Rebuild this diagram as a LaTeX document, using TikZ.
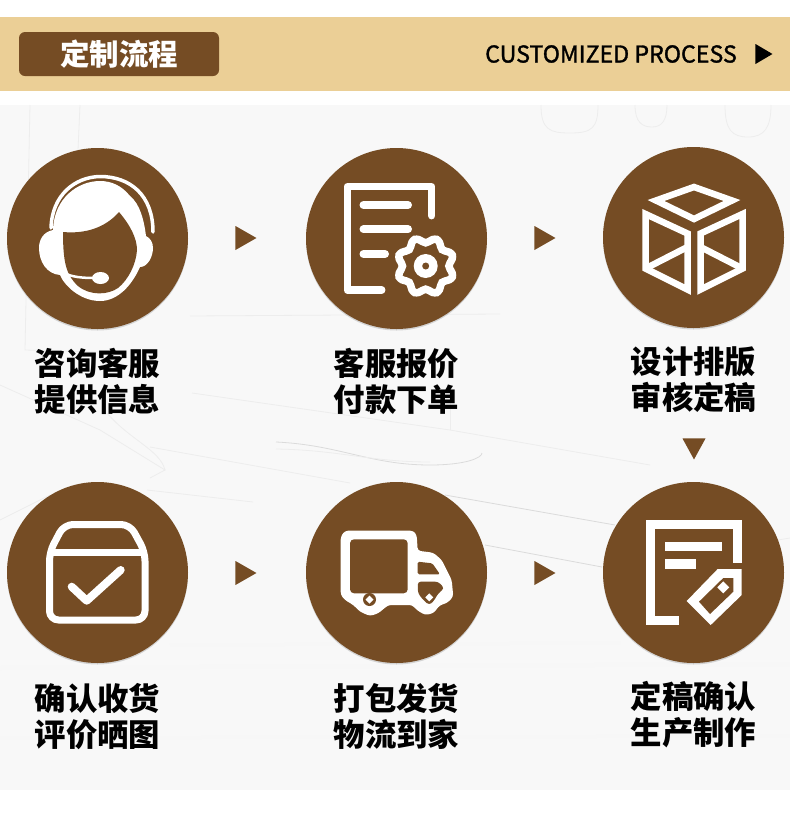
\documentclass[tikz,border=0pt]{standalone}
\usepackage{fontspec}
\newfontfamily\cjk{Noto Sans CJK SC}
\newfontfamily\cjkmid[FakeBold=1.4]{Noto Sans CJK SC}
\usetikzlibrary{positioning,shapes.geometric,shadows}
\definecolor{bark}{HTML}{754C24}
\definecolor{sand}{HTML}{EBCF96}
\definecolor{paper}{HTML}{F8F8F8}
\begin{document}
\begin{tikzpicture}[x=1pt,y=-1pt,
  disc/.style={circle,fill=bark,minimum size=181pt,inner sep=0pt,drop shadow={opacity=.3,shadow xshift=0pt,shadow yshift=-1.5pt}},
  word/.style={align=center,inner sep=0pt,font=\cjk\bfseries\fontsize{31.4}{36}\selectfont},
  tri/.style={isosceles triangle,isosceles triangle stretches,fill=bark,inner sep=0pt,minimum height=21pt,minimum width=24pt,anchor=apex},
  ico/.style={draw=white,line width=7pt,line cap=round,line join=round},
  sharp/.style={draw=white,line width=6.5pt,line cap=butt,line join=miter},
  tex/.style={draw=black!7,line width=.8pt}]
\useasboundingbox (0,0) rectangle (790,820);
% header band
\fill[sand] (0,17) rectangle (790,91);
\node[fill=bark,rounded corners=6pt,minimum width=200pt,minimum height=44pt,inner sep=0pt] (badge) at (119,54) {};
\node[text=white,inner sep=0pt,font=\cjk\bfseries\fontsize{29.5}{29}\selectfont] (title) at (badge) {定制流程};
\node[inner sep=0pt,anchor=east,font=\cjkmid\fontsize{23.2}{24}\selectfont] (sub) at (737,54) {CUSTOMIZED PROCESS};
\node[tri,fill=black,minimum height=17pt,minimum width=20pt] (go) at (773,54) {};
% paper background
\fill[paper] (0,105) rectangle (790,790);
\draw[tex] (80,105) -- (78,150);
\draw[tex] (30,105) -- (25,350) -- (100,352);
\draw[tex] (541,105) .. controls (541,130) and (550,133) .. (570,133) .. controls (592,133) and (598,128) .. (598,105);
\draw[tex] (635,105) .. controls (635,122) and (642,127) .. (652,127) .. controls (662,127) and (667,120) .. (667,105);
\draw[tex] (725,105) .. controls (725,130) and (732,137) .. (748,137) .. controls (764,137) and (771,128) .. (771,105);
\draw[tex] (190,316) -- (500,314);
\draw[tex] (0,385) -- (100,430) -- (165,470) -- (150,478);
\draw[tex] (107,413) .. controls (130,440) and (160,450) .. (165,470);
\draw[tex] (192,393) -- (450,430) -- (650,465);
\draw[tex] (450,403) -- (450,430);
\draw[tex] (150,447) -- (350,483);
\draw[tex,draw=black!14] (276,442) .. controls (340,445) and (370,465) .. (430,465) .. controls (465,465) and (482,458) .. (482,453);
\draw[tex] (276,449) .. controls (340,450) and (370,462) .. (430,462);
\draw[tex] (147,490) -- (253,502);
\draw[tex,draw=black!14] (445,495) -- (615,525);
\draw[tex,draw=black!14] (485,545) -- (602,567);
\draw[tex] (778,540) -- (790,538);
\draw[tex] (0,520) -- (50,495);
\draw[black!3,line width=3pt] (170,645) -- (620,643);
\draw[black!3,line width=4pt] (0,668) -- (790,664);
\draw[black!3,line width=3pt] (0,738) -- (790,736);
% circles
\node[disc] (c1) at (97.5,238.5) {};
\node[disc] (c2) at (396.5,238.5) {};
\node[disc] (c3) at (693.5,237.5) {};
\node[disc] (c4) at (97.5,572.5) {};
\node[disc] (c5) at (396.5,572.5) {};
\node[disc] (c6) at (693.5,572.5) {};
% triangles between steps
\node[tri] (t1) at (257,238) {};
\node[tri] (t2) at (556,238) {};
\node[tri] (t3) at (257,573) {};
\node[tri] (t4) at (556,573) {};
\node[tri,shape border rotate=-90,minimum width=23pt] (t5) at (694,460) {};
% texts
\node[word] (w1) at (97.5,381.5) {咨询客服\\提供信息};
\node[word] (w2) at (396.5,381.5) {客服报价\\付款下单};
\node[word] (w3) at (693.5,379.5) {设计排版\\审核定稿};
\node[word] (w4) at (97.5,716.5) {确认收货\\评价晒图};
\node[word] (w5) at (396.5,716.5) {打包发货\\物流到家};
\node[word] (w6) at (693.5,714.5) {定稿确认\\生产制作};
% headset
\fill[white] (53,230) .. controls (43,232) and (39,240) .. (39,248) .. controls (39,262) and (47,274) .. (60,275)
  .. controls (64,285) and (80,301) .. (100,301) .. controls (118,301) and (132,285) .. (140,267)
  .. controls (148,267) and (153,256) .. (153,248) .. controls (153,242) and (150,238) .. (146,236)
  .. controls (144,220) and (140,204) .. (130,196) .. controls (122,186) and (112,181) .. (100,181)
  .. controls (78,181) and (54,198) .. (53,230) -- cycle;
\fill[bark] (63,232) .. controls (85,234) and (105,228) .. (119,212) .. controls (130,225) and (137,238) .. (137,250)
  .. controls (136,265) and (128,280) .. (118,288) .. controls (108,295) and (90,296) .. (78,286)
  .. controls (66,275) and (63,262) .. (63,232) -- cycle;
\draw[draw=white,line width=3.5pt,line cap=round] (51,228) .. controls (52,195) and (75,177) .. (100,176.5) .. controls (130,176.5) and (153,195) .. (153,232);
\draw[draw=white,line width=2.5pt] (64,273) .. controls (72,277) and (82,278) .. (95,278);
\fill[white] (100.5,278) ellipse [x radius=8.5,y radius=6];
% form and gear
\draw[ico,line width=7.5pt] (431.7,215.7) -- (431.7,186.7) -- (347.3,186.7) -- (347.3,290) -- (381.7,290);
\draw[ico,line width=8pt] (363.5,205) -- (408,205);
\draw[ico,line width=8pt] (363.5,229.3) -- (408,229.3);
\draw[ico,line width=8pt] (363.5,254) -- (385,254);
\draw[draw=white,line width=7.5pt,smooth cycle] plot[domain=0:352.5,samples=48] ({425.7+(26+2.8*cos(8*\x-180))*cos(\x)},{266+(26+2.8*cos(8*\x-180))*sin(\x)});
\fill[white] (425.7,266) circle [radius=12];
\fill[bark] (425.7,266) circle [radius=3.5];
% box
\draw[sharp] (694,187) -- (732,200.5) -- (694,219) -- (656,200.5) -- cycle;
\draw[sharp] (645.5,214) -- (687.5,233.5) -- (687.5,289.5) -- (645.5,268.5) -- cycle;
\draw[sharp] (645.5,268.5) -- (687.5,247);
\draw[sharp] (742.5,214) -- (700.5,233.5) -- (700.5,289.5) -- (742.5,268.5) -- cycle;
\draw[sharp] (742.5,268.5) -- (700.5,247);
% parcel
\draw[ico,line cap=butt,rounded corners=9pt] (49.5,552) -- (64,524.5) -- (130,524.5) -- (145,552) -- (145,620) -- (49.5,620) -- cycle;
\draw[draw=white,line width=7pt] (49.5,552) -- (145,552);
\draw[ico,line width=8pt] (71.7,586.7) -- (86.7,600.7) -- (120.7,570);
% truck
\fill[white,rounded corners=3pt] (340.7,536.7) -- (345,530.7) -- (413.3,530.7) -- (416.7,535) -- (417.7,550.7) -- (433.3,552.7) -- (441.7,560) -- (451.7,580) -- (453.3,596.7) -- (446.7,603.3) -- (440,605) -- (433.3,613.3) -- (425,615) -- (416.7,610) -- (412.3,605) -- (388.3,605) -- (378.3,613.3) -- (370,616) -- (360,611.7) -- (353.3,605) -- (345,600) -- (340.7,595) -- cycle;
\fill[bark,rounded corners=4pt] (350,539.3) rectangle (407.7,593.3);
\fill[bark] (369.5,599.5) circle [radius=6.5];
\fill[white] (369.5,595.5) -- (373.5,599.5) -- (369.5,603.5) -- (365.5,599.5) -- cycle;
\fill[bark,rounded corners=1.5pt] (417.7,561.7) -- (432.3,563.3) -- (440,574.3) -- (417.7,574.3) -- cycle;
\fill[bark,rounded corners=3pt] (417.7,581.7) -- (438.3,581.7) -- (444.3,588.3) -- (438.3,593.3) -- (433.3,601.7) -- (429,605) -- (423.3,600) -- (418,593.3) -- cycle;
\fill[white] (429.3,593.3) -- (433.3,597.3) -- (429.3,601.3) -- (425.3,597.3) -- cycle;
% draft and tag
\draw[sharp,line width=9pt] (737.3,562.7) -- (737.3,524.7) -- (650,524.7) -- (650,620.7) -- (679,620.7);
\fill[white] (665,541.7) rectangle (722.3,550.7);
\fill[white] (665,559.3) rectangle (695.7,568.7);
\fill[white] (741.7,569) -- (741.7,595) -- (710.7,625) -- (686.7,601) -- (717.7,569) -- cycle;
\fill[bark] (733.3,578) -- (733.3,591.7) -- (710,614) -- (699,601.7) -- (723.3,578) -- cycle;
\fill[white] (723.3,581.3) -- (729.3,587.3) -- (723.3,593.3) -- (717.3,587.3) -- cycle;
\end{tikzpicture}
\end{document}
